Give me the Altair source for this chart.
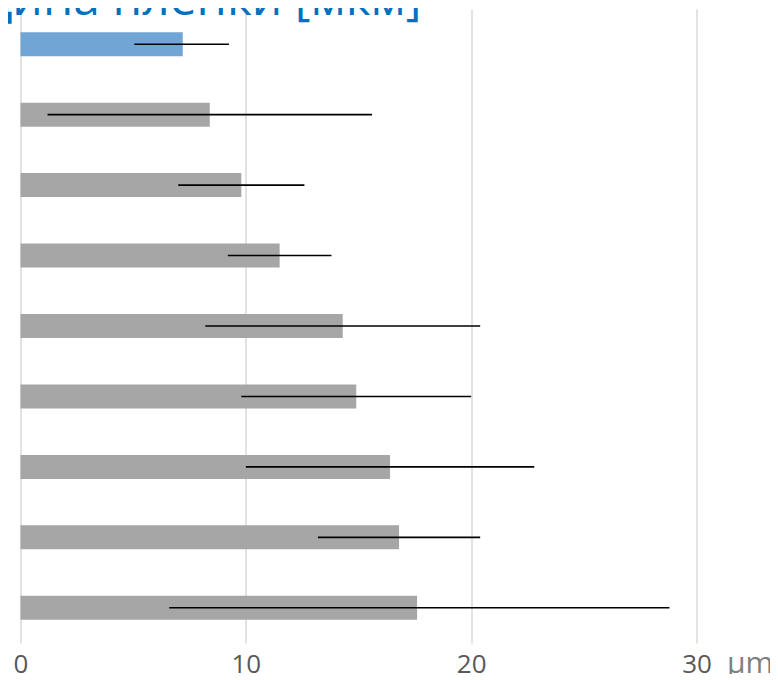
import altair as alt
import pandas as pd

samples = ["1", "2", "3", "4", "5", "6", "7", "8", "9"]
thickness = [7.2, 8.4, 9.8, 11.5, 14.3, 14.9, 16.4, 16.8, 17.6]
err_low = [5.05, 1.2, 7.0, 9.2, 8.2, 9.8, 10.0, 13.2, 6.6]
err_high = [9.25, 15.6, 12.6, 13.8, 20.4, 20.0, 22.8, 20.4, 28.8]
highlight = ["yes", "no", "no", "no", "no", "no", "no", "no", "no"]
x_ticks = [0, 10, 20, 30]
title_text = ["Толщина пленки [мкм]"]

df = pd.DataFrame({
    "sample": samples,
    "value": thickness,
    "lo": err_low,
    "hi": err_high,
    "hl": highlight,
})
title_df = pd.DataFrame({"t": title_text})

y_enc = alt.Y("sample:N", sort=samples,
              scale=alt.Scale(paddingInner=0, paddingOuter=0),
              axis=None)

x_scale = alt.Scale(domain=[0, 30], nice=False, zero=True)

bars = alt.Chart(df).mark_bar(size=24).encode(
    x=alt.X("value:Q", scale=x_scale,
            axis=alt.Axis(values=x_ticks, grid=True, gridColor="#D9D9D9",
                          gridWidth=1.5, domain=False, ticks=False, tickSize=0,
                          labelFont="Open Sans", labelFontSize=26,
                          labelColor="#595959", labelBaseline="alphabetic",
                          labelPadding=29, labelFlush=False,
                          title="μm", titleFont="Open Sans", titleFontSize=30,
                          titleFontWeight="normal", titleColor="#7F7F7F",
                          titleAlign="left", titleBaseline="alphabetic",
                          titleX=706, titleY=29, titleAnchor="start")),
    y=y_enc,
    color=alt.Color("hl:N", scale=alt.Scale(domain=["yes", "no"],
                                            range=["#70A5D5", "#A6A6A6"]),
                    legend=None),
)

errs = alt.Chart(df).mark_rule(color="#000000", strokeWidth=1.6).encode(
    x=alt.X("lo:Q", scale=x_scale),
    x2="hi:Q",
    y=y_enc,
)

title = alt.Chart(title_df).mark_text(
    align="left", baseline="alphabetic", font="Open Sans", fontSize=48,
    color="#0070C0",
).encode(text="t:N", x=alt.value(-134), y=alt.value(6))

chart = alt.layer(bars, errs, title).properties(
    width=676,
    height=634,
    autosize="none",
    padding={"left": 12.5, "top": 1, "right": 73, "bottom": 31},
).configure_view(stroke=None)

chart.save("out.html", embed_options={"renderer": "svg", "actions": False})
